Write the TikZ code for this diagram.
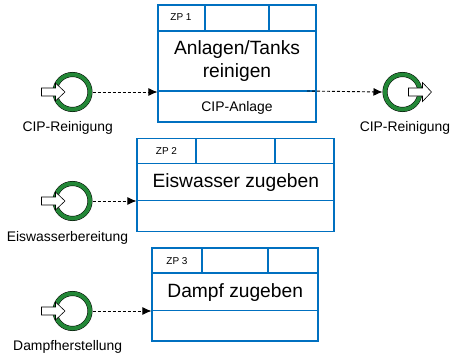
\documentclass[tikz,border=0pt]{standalone}
\usepackage{fontspec}
\setmainfont{Liberation Sans}
\usetikzlibrary{arrows.meta}
\definecolor{boxblue}{RGB}{0,112,192}
\definecolor{evgreen}{RGB}{35,135,55}
\tikzset{
  procbox/.style={draw=boxblue, line width=1.1pt, rectangle, inner sep=0pt},
  divider/.style={draw=boxblue, line width=1.1pt},
  evt/.style={circle, draw=black, line width=0.5pt, double=evgreen, double distance=4pt, fill=white, minimum size=35pt, inner sep=0pt, outer sep=2.5pt},
  flow/.style={dashed, dash pattern=on 3pt off 2pt, line width=0.9pt, -{Latex[length=9pt,width=8pt]}},
  bigtxt/.style={font=\fontsize{19.2}{23}\selectfont, align=center, inner sep=0pt},
  midtxt/.style={font=\fontsize{13.9}{16}\selectfont, inner sep=0pt},
  zptxt/.style={font=\fontsize{10}{12}\selectfont, inner sep=0pt},
  iconarrow/.style={draw=black, line width=0.6pt, fill=white, line join=miter}
}
\begin{document}
\begin{tikzpicture}[x=1pt,y=-1pt]
\useasboundingbox (0,0) rectangle (453,354);

% process boxes
\node[procbox, minimum width=158pt, minimum height=117pt] (b1) at (237,63.5) {};
\node[procbox, minimum width=197pt, minimum height=93.4pt] (b2) at (235.5,185) {};
\node[procbox, minimum width=166pt, minimum height=93pt] (b3) at (235,294.5) {};

% dividers box 1
\draw[divider] (158,31) -- (316,31);
\draw[divider] (158,91) -- (316,91);
\draw[divider] (205,5) -- (205,31);
\draw[divider] (269,5) -- (269,31);
% dividers box 2
\draw[divider] (137,163.3) -- (334,163.3);
\draw[divider] (137,200.3) -- (334,200.3);
\draw[divider] (196,138.3) -- (196,163.3);
\draw[divider] (275,138.3) -- (275,163.3);
% dividers box 3
\draw[divider] (152,273) -- (318,273);
\draw[divider] (152,310.3) -- (318,310.3);
\draw[divider] (202,248) -- (202,273);
\draw[divider] (268,248) -- (268,273);

% box texts
\node[zptxt, anchor=base] (z1) at (181,20.7) {ZP 1};
\node[zptxt, anchor=base] (z2) at (166.5,154.3) {ZP 2};
\node[zptxt, anchor=base] (z3) at (177,264) {ZP 3};
\node[bigtxt] (t1) at (237,61) {Anlagen/Tanks\\reinigen};
\node[midtxt, anchor=base] (r1) at (237,111.7) {CIP-Anlage};
\node[bigtxt, anchor=base] (t2) at (235.8,187.7) {Eiswasser zugeben};
\node[bigtxt, anchor=base] (t3) at (235.2,297.5) {Dampf zugeben};

% events
\node[evt] (c1) at (72.5,92) {};
\node[evt] (c2) at (72.5,201) {};
\node[evt] (c3) at (72.5,311) {};
\node[evt] (c4) at (402.5,92) {};

% start arrows (input icons)
\foreach \n in {c1,c2,c3}{
  \draw[iconarrow] ([shift={(-31,-4)}]\n.center) -- ([shift={(-17,-4)}]\n.center) -- ([shift={(-17,-9)}]\n.center) -- ([shift={(-7.5,0)}]\n.center) -- ([shift={(-17,9)}]\n.center) -- ([shift={(-17,4)}]\n.center) -- ([shift={(-31,4)}]\n.center) -- cycle;
}
% end arrow icon
\draw[iconarrow] ([shift={(6,-4)}]c4.center) -- ([shift={(20,-4)}]c4.center) -- ([shift={(20,-9.5)}]c4.center) -- ([shift={(29,0)}]c4.center) -- ([shift={(20,9.5)}]c4.center) -- ([shift={(20,4)}]c4.center) -- ([shift={(6,4)}]c4.center) -- cycle;

% labels
\node[midtxt, anchor=base] (l1) at (67.7,131.7) {CIP-Reinigung};
\node[midtxt, anchor=base] (l4) at (405,131.7) {CIP-Reinigung};
\node[midtxt, anchor=base] (l2) at (67.5,241) {Eiswasserbereitung};
\node[midtxt, anchor=base] (l3) at (67.7,350) {Dampfherstellung};

% connectors
\coordinate (o1) at (307,91);
\draw[flow] (c1.east) -- (c1.east -| b1.west);
\draw[flow] (o1) -- (c4.west);
\draw[flow] (c2.east) -- (c2.east -| b2.west);
\draw[flow] (c3.east) -- (c3.east -| b3.west);
\end{tikzpicture}
\end{document}
